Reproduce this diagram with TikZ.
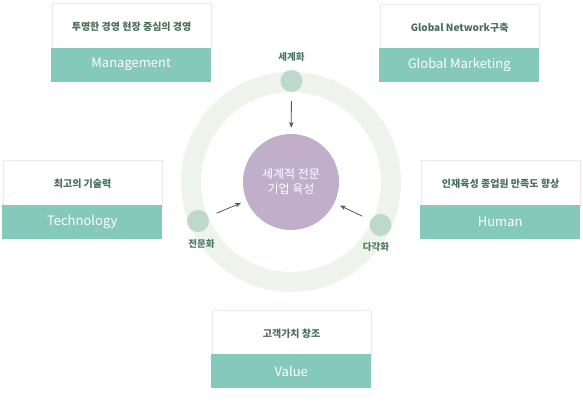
\documentclass[tikz,border=0pt]{standalone}
\usepackage{fontspec}
\setmainfont{Noto Sans CJK KR}
\usetikzlibrary{arrows.meta}
\definecolor{bar}{HTML}{85C9BB}
\definecolor{boxline}{HTML}{F0E6E4}
\definecolor{ttl}{HTML}{4A6E5E}
\definecolor{ringc}{HTML}{EEF4EC}
\definecolor{dot}{HTML}{BDD8CC}
\definecolor{purp}{HTML}{C0AECB}
\definecolor{lbl}{HTML}{4A7A62}
\definecolor{arr}{HTML}{555555}
\begin{document}
\begin{tikzpicture}[x=1pt,y=-1pt,
  topbox/.style={draw=boxline,line width=1.2pt,fill=white,minimum width=159pt,minimum height=46pt,inner sep=0pt,anchor=north west,text=ttl,font=\fontsize{10}{12}\selectfont\bfseries,text depth=0pt},
  barbox/.style={fill=bar,minimum width=160pt,minimum height=34pt,inner sep=0pt,anchor=north west,text=white,font=\fontsize{13}{15}\selectfont},
  dotc/.style={circle,fill=dot,minimum size=22pt,inner sep=0pt},
  dotlbl/.style={text=lbl,font=\fontsize{9.5}{11}\selectfont\bfseries,inner sep=0pt},
  conn/.style={draw=arr,line width=0.8pt,-{Stealth[length=6pt,width=4.5pt]},shorten <=9pt,shorten >=6pt}]
\useasboundingbox (0,0) rectangle (583,402);
\fill[white] (0,0) rectangle (583,402);
% ring
\draw[ringc,line width=20pt] (291,182) circle[radius=100];
% boxes
\node[topbox] (mgtT) at (51.5,2.5) {투명한 경영 현장 중심의 경영};
\node[barbox] (mgtB) at (51,47.5) {Management};
\node[topbox] (glbT) at (379.5,3.5) {Global Network구축};
\node[barbox] (glbB) at (379,48) {Global Marketing};
\node[topbox] (tecT) at (2.5,159.5) {최고의 기술력};
\node[barbox] (tecB) at (2,205) {Technology};
\node[topbox] (humT) at (420.5,159.5) {인재육성 종업원 만족도 향상};
\node[barbox] (humB) at (420,205) {Human};
\node[topbox] (valT) at (211.5,309.5) {고객가치 창조};
\node[barbox] (valB) at (211,354) {Value};
% center
\node[circle,fill=purp,minimum size=96pt,inner sep=0pt,text=white,align=center,
  font=\fontsize{12}{15}\selectfont] (core) at (291,182) {세계적 전문\\기업 육성};
% dots
\node[dotc] (dtop) at (291.5,81) {};
\node[dotc] (dleft) at (198,221) {};
\node[dotc] (dright) at (380.5,225) {};
\node[dotlbl] (ltop) at (291.5,57) {세계화};
\node[dotlbl] (lleft) at (201.5,244) {전문화};
\node[dotlbl] (lright) at (376,247) {다각화};
% arrows
\draw[conn] (dtop) -- (core);
\draw[conn] (dleft) -- (core);
\draw[conn] (dright) -- (core);
\end{tikzpicture}
\end{document}
